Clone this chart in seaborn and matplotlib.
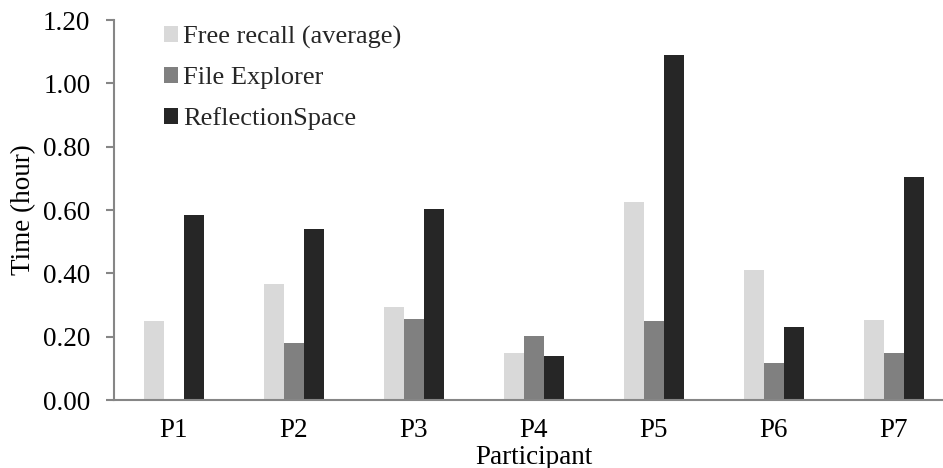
import matplotlib
matplotlib.use("Agg")
import matplotlib.pyplot as plt
import seaborn as sns
import pandas as pd

# Time spent per participant with each retrieval method
participants = ["P1", "P2", "P3", "P4", "P5", "P6", "P7"]
free_recall = [0.250, 0.365, 0.293, 0.149, 0.625, 0.410, 0.253]
file_explorer = [0.0, 0.181, 0.256, 0.202, 0.248, 0.117, 0.147]
reflection_space = [0.583, 0.539, 0.604, 0.138, 1.088, 0.230, 0.703]

methods = ["Free recall (average)", "File Explorer", "ReflectionSpace"]
colors = ["#d9d9d9", "#808080", "#262626"]

rows = []
for name, series in zip(methods, [free_recall, file_explorer, reflection_space]):
    for p, v in zip(participants, series):
        rows.append({"Participant": p, "Method": name, "Time": v})
df = pd.DataFrame(rows)

sns.set_theme(style="white")
plt.rcParams["font.family"] = ["Liberation Serif", "DejaVu Serif"]

FS = 19.5

fig = plt.figure(figsize=(9.43, 4.68), dpi=100)
ax = fig.add_axes([114 / 943, 68 / 468, (943 - 114) / 943, 380 / 468])

sns.barplot(data=df, x="Participant", y="Time", hue="Method",
            palette=colors, width=0.5, linewidth=0, saturation=1,
            errorbar=None, ax=ax)

axis_grey = "#868686"
ax.set_ylim(0, 1.2)
ax.set_yticks([0, 0.2, 0.4, 0.6, 0.8, 1.0, 1.2])
ax.set_yticklabels([f"{t:.2f}" for t in ax.get_yticks()])
ax.set_xlim(-0.5, 6.5 - 11 / 120)

for side in ["top", "right"]:
    ax.spines[side].set_visible(False)
for side in ["left", "bottom"]:
    ax.spines[side].set_color(axis_grey)
    ax.spines[side].set_linewidth(1.5)

ax.tick_params(axis="y", which="both", left=True, length=6, width=1.5,
               color=axis_grey, pad=11, labelsize=FS, labelcolor="black")
ax.tick_params(axis="x", which="both", bottom=False, length=0, pad=13,
               labelsize=FS, labelcolor="black")

ax.set_ylabel("Time (hour)", fontsize=FS, color="black", labelpad=5)
ax.set_xlabel("Participant", fontsize=FS, color="black")
ax.xaxis.set_label_coords((534 - 114) / (943 - 114), -0.118)
ax.xaxis.label.set_verticalalignment("top")

leg = ax.legend(loc="upper left", bbox_to_anchor=(0.047, 1.013), frameon=False,
                fontsize=19, handlelength=0.55, handleheight=0.55,
                handletextpad=0.2, labelspacing=0.69, borderaxespad=0)

fig.savefig("out.png", dpi=100)
